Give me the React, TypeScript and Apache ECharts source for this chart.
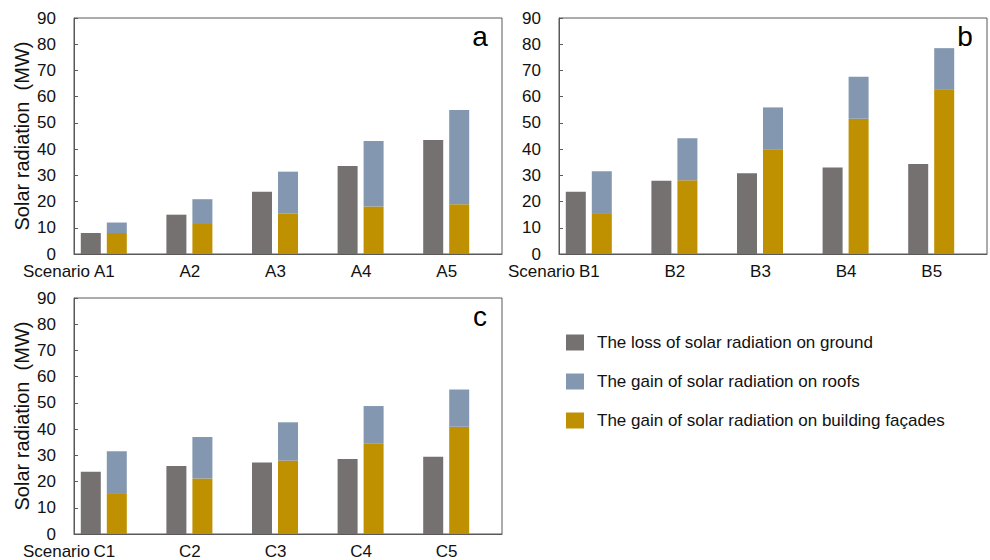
import React, { useEffect, useRef } from "react";
import * as echarts from "echarts";

const seriesNames = [
  "The loss of solar radiation on ground",
  "The gain of solar radiation on roofs",
  "The gain of solar radiation on building façades",
];

const catsA = ["A1", "A2", "A3", "A4", "A5"];
const catsB = ["B1", "B2", "B3", "B4", "B5"];
const catsC = ["C1", "C2", "C3", "C4", "C5"];

const groundA = [8, 15, 23.7, 33.6, 43.5];
const facadeA = [8, 11.8, 15.5, 18.1, 19];
const roofA = [4, 9.1, 15.9, 25, 35.9];

const groundB = [23.7, 27.9, 30.8, 33, 34.3];
const facadeB = [15.6, 28.1, 39.9, 51.6, 62.6];
const roofB = [16, 16, 16, 16, 15.9];

const groundC = [23.7, 25.9, 27.3, 28.6, 29.5];
const facadeC = [15.6, 21.2, 28, 34.6, 40.9];
const roofC = [16, 15.8, 14.6, 14.2, 14.2];

const yTicks = { min: 0, max: 90, interval: 10 };
const panelLetters = ["a", "b", "c"];
const yName = "Solar radiation  (MW)";
const scenarioWord = "Scenario";

const FONT = "'Liberation Sans', Arial, sans-serif";
const C_GROUND = "#767171";
const C_ROOF = "#8497B0";
const C_FACADE = "#BF9000";
const TXT = "#111111";

export default function App() {
  const ref = useRef<HTMLDivElement>(null);
  useEffect(() => {
    if (!ref.current) return;
    const chart = echarts.init(ref.current, null, { renderer: "svg" });

    const panels = [
      { cats: catsA, ground: groundA, facade: facadeA, roof: roofA, left: 74, top: 18, yname: true },
      { cats: catsB, ground: groundB, facade: facadeB, roof: roofB, left: 559, top: 18, yname: false },
      { cats: catsC, ground: groundC, facade: facadeC, roof: roofC, left: 74, top: 298, yname: true },
    ];
    const W = 428;
    const H = 236;

    const grid: any[] = [];
    const xAxis: any[] = [];
    const yAxis: any[] = [];
    const series: any[] = [];
    const graphic: any[] = [];

    panels.forEach((p, i) => {
      grid.push({
        left: p.left,
        top: p.top,
        width: W,
        height: H,
        show: true,
        borderColor: "#595959",
        borderWidth: 1,
        backgroundColor: "transparent",
      });
      xAxis.push({
        type: "category",
        gridIndex: i,
        data: p.cats,
        axisLine: { show: true, lineStyle: { color: "#595959", width: 1 } },
        axisTick: { show: false },
        axisLabel: {
          color: TXT,
          fontSize: 17,
          fontFamily: FONT,
          margin: 9,
          padding: [0, 25, 0, 0],
        },
        splitLine: { show: false },
      });
      yAxis.push({
        type: "value",
        gridIndex: i,
        min: yTicks.min,
        max: yTicks.max,
        interval: yTicks.interval,
        name: p.yname ? yName : "",
        nameLocation: "middle",
        nameGap: 42,
        nameTextStyle: { color: TXT, fontSize: 20, fontFamily: FONT },
        axisLine: { show: true, lineStyle: { color: "#595959", width: 1 } },
        axisTick: { show: true, inside: true, length: 4, lineStyle: { color: "#595959" } },
        axisLabel: { color: TXT, fontSize: 17, fontFamily: FONT, margin: 18 },
        splitLine: { show: false },
      });
      const common = { xAxisIndex: i, yAxisIndex: i, barWidth: 20, barGap: "30%" };
      series.push({
        ...common,
        type: "bar",
        name: seriesNames[0],
        stack: "ground" + i,
        data: p.ground,
        itemStyle: { color: C_GROUND },
      });
      series.push({
        ...common,
        type: "bar",
        name: seriesNames[2],
        stack: "gain" + i,
        data: p.facade,
        itemStyle: { color: C_FACADE },
      });
      series.push({
        ...common,
        type: "bar",
        name: seriesNames[1],
        stack: "gain" + i,
        data: p.roof,
        itemStyle: { color: C_ROOF },
      });
      series.push({
        ...common,
        type: "bar",
        name: "spacer",
        stack: "spacer" + i,
        data: p.cats.map(() => null),
        itemStyle: { color: "transparent" },
        silent: true,
      });

      graphic.push({
        type: "text",
        x: p.left + 16,
        y: p.top + H + 9,
        style: {
          text: scenarioWord,
          fill: TXT,
          font: `17px ${FONT}`,
          align: "right",
          verticalAlign: "top",
        },
      });
      graphic.push({
        type: "text",
        x: p.left + W - 22,
        y: p.top + 18,
        style: {
          text: panelLetters[i],
          fill: "#000",
          font: `28px ${FONT}`,
          align: "center",
          verticalAlign: "middle",
        },
      });
    });

    chart.setOption({
      animation: false,
      backgroundColor: "#ffffff",
      textStyle: { fontFamily: FONT },
      grid,
      xAxis,
      yAxis,
      series,
      graphic,
      legend: {
        data: [seriesNames[0], seriesNames[1], seriesNames[2]],
        orient: "vertical",
        left: 561,
        top: 329,
        itemWidth: 18,
        itemHeight: 16,
        itemGap: 22,
        icon: "rect",
        selectedMode: false,
        textStyle: {
          color: TXT,
          fontSize: 17,
          fontFamily: FONT,
          padding: [0, 0, 0, 8],
        },
      },
    });
    return () => chart.dispose();
  }, []);
  return (
    <div
      ref={ref}
      style={{ position: "absolute", left: 0, top: 0, width: 990, height: 560 }}
    />
  );
}
